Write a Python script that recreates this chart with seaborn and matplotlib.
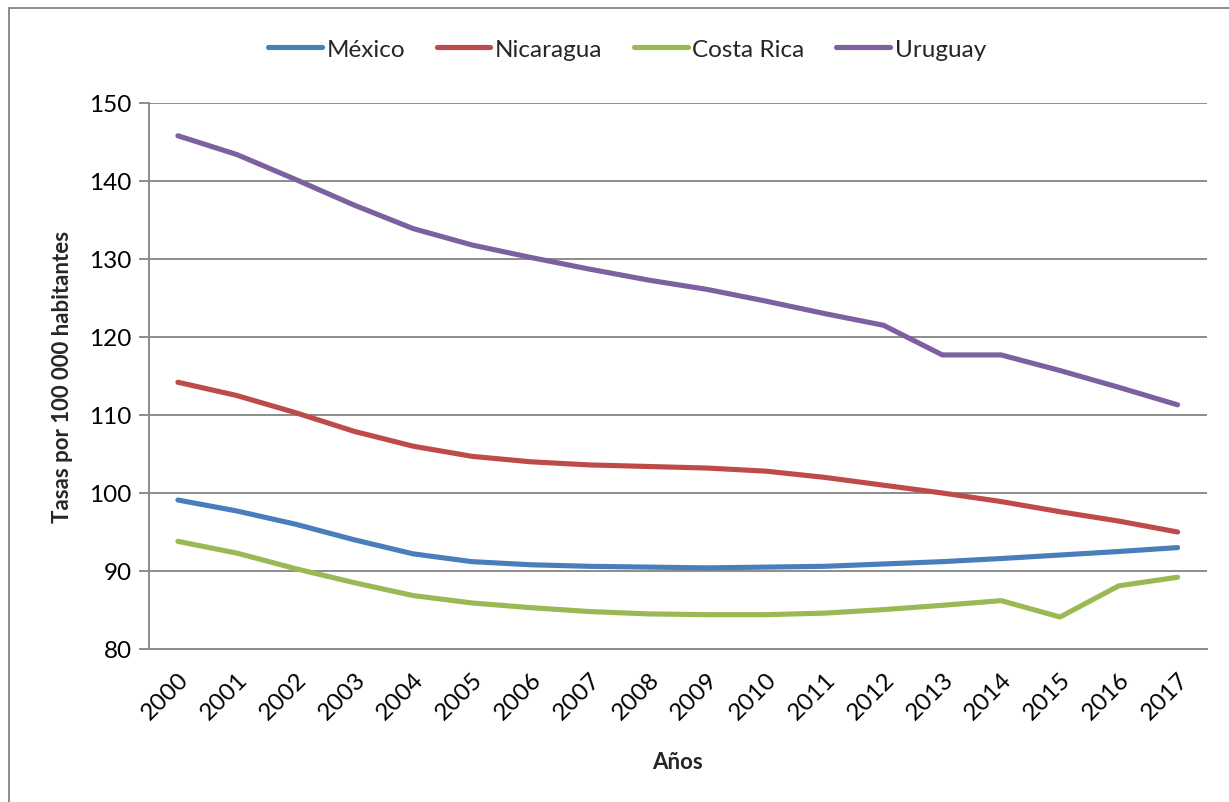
import matplotlib
matplotlib.use("Agg")
import matplotlib.pyplot as plt
from matplotlib.patches import Rectangle
import seaborn as sns
import pandas as pd
import numpy as np

# Series: rates per 100 000 inhabitants, 2000-2017
years = [str(y) for y in range(2000, 2018)]
mexico = [99.1, 97.7, 96.0, 94.0, 92.2, 91.2, 90.8, 90.6, 90.5, 90.4, 90.5, 90.6, 90.9, 91.2, 91.6, 92.05, 92.5, 93.0]
nicaragua = [114.2, 112.5, 110.3, 107.9, 106.0, 104.7, 104.0, 103.6, 103.4, 103.2, 102.8, 102.0, 101.0, 100.0, 98.9, 97.6, 96.4, 95.0]
costa_rica = [93.8, 92.3, 90.3, 88.5, 86.85, 85.9, 85.3, 84.8, 84.5, 84.4, 84.4, 84.6, 85.05, 85.6, 86.2, 84.1, 88.1, 89.2]
uruguay = [145.8, 143.4, 140.2, 136.9, 133.9, 131.8, 130.2, 128.7, 127.3, 126.1, 124.6, 123.0, 121.5, 117.7, 117.7, 115.7, 113.55, 111.3]

countries = ["México", "Nicaragua", "Costa Rica", "Uruguay"]
series = [mexico, nicaragua, costa_rica, uruguay]
colors = ["#4A7EBB", "#BE4B48", "#98B954", "#7D60A0"]

y_ticks = [80, 90, 100, 110, 120, 130, 140, 150]

frames = []
for name, vals in zip(countries, series):
    frames.append(pd.DataFrame({"idx": np.arange(len(years)), "year": years,
                                "valor": vals, "pais": name}))
df = pd.concat(frames, ignore_index=True)

sns.set_theme(style="white")
plt.rcParams["font.family"] = ["Lato", "DejaVu Sans"]

fig = plt.figure(figsize=(12.29, 8.03), dpi=100)
ax = fig.add_axes([148.5 / 1229, 1 - 650 / 803, (1207 - 148.5) / 1229, (650 - 104) / 803])

sns.lineplot(data=df, x="idx", y="valor", hue="pais", hue_order=countries,
             palette=colors, linewidth=3.7, sort=False, ax=ax)
for ln in ax.get_lines():
    ln.set_solid_capstyle("round")
    ln.set_solid_joinstyle("round")

grid_c = "#8C8C8C"
ax.set_xlim(-0.5, len(years) - 0.5)
ax.set_ylim(80, 150)
ax.set_yticks(y_ticks)
ax.yaxis.grid(True, color=grid_c, linewidth=1.4)
ax.set_axisbelow(True)
for s in ["top", "right"]:
    ax.spines[s].set_visible(False)
for s in ["left", "bottom"]:
    ax.spines[s].set_color(grid_c)
    ax.spines[s].set_linewidth(1.4)

ax.set_xticks(np.arange(len(years)))
ax.set_xticklabels(years, rotation=45, ha="right", rotation_mode="anchor")
ax.set_xticks(np.arange(-0.5, len(years), 1.0), minor=True)
ax.tick_params(axis="x", which="major", length=0, labelsize=17.5, pad=14, colors="black")
ax.tick_params(axis="x", which="minor", length=7, width=1.4, color=grid_c, direction="out")
ax.tick_params(axis="y", which="major", length=7, width=1.4, color=grid_c, labelsize=17.5,
               pad=5, left=True, direction="out", labelcolor="black")

ax.set_xlabel("Años", fontsize=16, fontweight="bold", labelpad=20)
ax.set_ylabel("Tasas por 100 000 habitantes", fontsize=16, fontweight="bold", labelpad=12)

handles, labels = ax.get_legend_handles_labels()
if ax.get_legend() is not None:
    ax.get_legend().remove()
fig.legend(handles, labels, loc="center", bbox_to_anchor=(627 / 1229, 1 - 50 / 803),
           ncol=4, frameon=False, fontsize=17.5, handlelength=2.2, handletextpad=0.2,
           columnspacing=1.3)

# Chart frame
fig.patches.append(Rectangle((9 / 1229, -0.1), 1.2, (1 - 9 / 803) + 0.1,
                             transform=fig.transFigure, fill=False,
                             edgecolor="#8C8C8C", linewidth=1.4))

fig.savefig("out.png", dpi=100)
